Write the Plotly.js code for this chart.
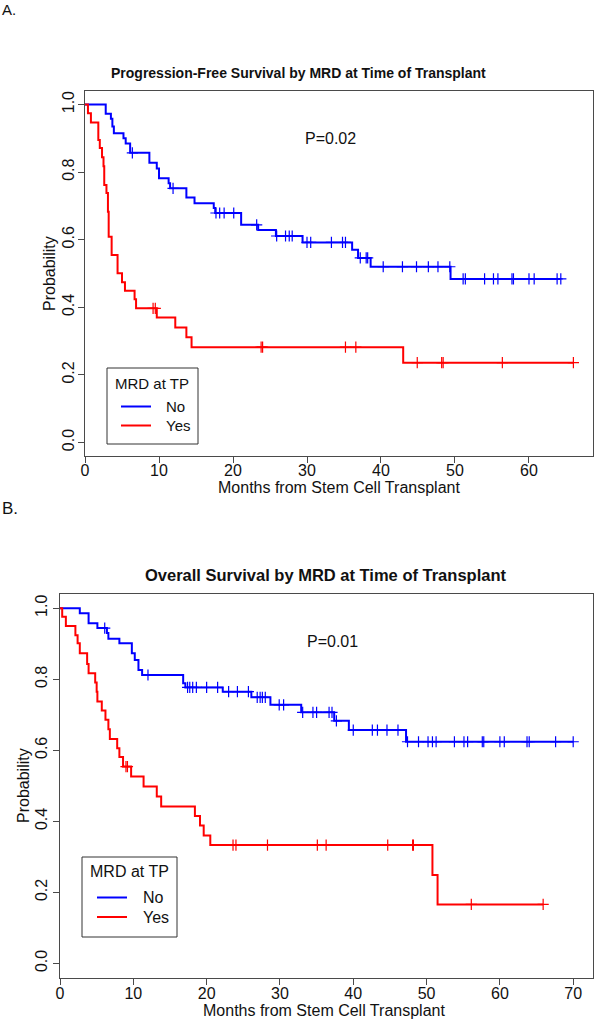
<!DOCTYPE html>
<html>
<head>
<meta charset="utf-8">
<script src="https://cdn.plot.ly/plotly-3.0.1.min.js"></script>
<style>html,body{margin:0;padding:0;background:#fff;}#chart{width:594px;height:1020px;}</style>
</head>
<body>
<div id="chart"></div>
<script>
// ---- Panel A: Progression-free survival ----
const pfsNoTime = [2.8,3.5,3.7,3.9,5.2,5.5,6.1,8.7,9.7,10.0,11.3,11.5,13.7,14.8,17.4,17.6,21.1,23.4,25.8,29.4,36.1,36.9,38.6,49.4];
const pfsNoSurv = [0.973,0.958,0.935,0.915,0.900,0.885,0.857,0.828,0.811,0.782,0.767,0.752,0.725,0.708,0.694,0.679,0.644,0.629,0.611,0.592,0.570,0.546,0.520,0.484];
const pfsNoCens = [6.4,11.9,17.7,18.2,18.8,20.1,23.2,25.9,27.1,27.6,28.0,30.0,30.5,33.3,34.8,35.2,37.2,38.0,38.2,40.3,42.9,44.8,46.4,47.7,49.3,51.1,51.4,54.0,55.2,55.8,57.7,57.9,60.0,60.7,63.8,64.3];
const pfsYesTime = [0.4,0.8,1.8,2.0,2.3,2.5,2.6,2.9,3.1,3.2,3.6,4.4,5.0,5.4,6.7,6.9,9.7,12.2,13.7,14.4,43.0];
const pfsYesSurv = [0.974,0.947,0.895,0.871,0.844,0.817,0.762,0.738,0.683,0.609,0.555,0.501,0.474,0.449,0.424,0.397,0.370,0.340,0.311,0.282,0.236];
const pfsYesCens = [9.2,9.5,23.8,24.0,35.2,36.6,44.9,48.2,48.4,56.4,66.0];

// ---- Panel B: Overall survival ----
const osNoTime = [2.7,3.9,5.1,6.4,6.6,8.1,9.8,10.2,10.7,11.2,16.8,17.1,22.2,26.1,28.7,32.9,37.4,39.4,47.2];
const osNoSurv = [0.986,0.958,0.944,0.930,0.914,0.901,0.873,0.854,0.826,0.812,0.789,0.777,0.765,0.749,0.728,0.707,0.683,0.657,0.624];
const osNoCens = [6.1,12.0,17.4,17.7,18.1,18.6,20.0,21.5,23.0,24.2,25.7,26.9,27.3,27.6,28.0,29.9,30.5,33.1,34.5,35.0,36.7,37.1,37.7,40.0,42.6,43.3,44.6,46.1,47.4,48.9,50.2,50.8,51.3,53.8,55.1,55.6,57.6,57.8,60.0,60.6,63.7,64.0,67.6,70.0];
const osYesTime = [0.3,0.8,2.1,2.4,2.7,3.7,3.9,4.8,5.0,5.1,5.7,6.2,6.6,6.8,7.8,8.1,8.6,9.7,11.4,13.2,13.8,18.4,19.1,19.6,20.5,50.8,51.5];
const osYesSurv = [0.976,0.950,0.924,0.901,0.873,0.843,0.817,0.791,0.765,0.737,0.712,0.686,0.659,0.632,0.606,0.581,0.554,0.526,0.498,0.470,0.442,0.415,0.388,0.360,0.333,0.249,0.166];
const osYesCens = [9.0,9.2,23.6,24.0,28.3,35.1,36.3,44.7,48.1,48.2,56.1,65.9];

// ---- Labels ----
const titleA = "Progression-Free Survival by MRD at Time of Transplant";
const titleB = "Overall Survival by MRD at Time of Transplant";
const xLabel = "Months from Stem Cell Transplant";
const yLabel = "Probability";
const pA = "P=0.02";
const pB = "P=0.01";
const legendTitle = "MRD at TP";
const groupNames = ["No", "Yes"];
const xTicksA = [0,10,20,30,40,50,60];
const xTicksB = [0,10,20,30,40,50,60,70];
const yTicks = [0,0.2,0.4,0.6,0.8,1.0];

const BLUE = "#0000FF", RED = "#FF0000", AX = "#4a4a4a", TXT = "#111";
const FONT = "Liberation Sans, Arial, sans-serif";
const W = 594, H = 1020;
const px = v => v / W;
const py = v => 1 - v / H;

function stepTrace(times, surv, cens, color, xa, ya) {
  const end = Math.max(times[times.length - 1], ...cens);
  return {
    type: "scatter", mode: "lines", xaxis: xa, yaxis: ya,
    x: [0, ...times, end], y: [1, ...surv, surv[surv.length - 1]],
    line: {shape: "hv", color: color, width: 2}, hoverinfo: "skip"
  };
}
function censTrace(times, surv, cens, color, xa, ya) {
  const ys = cens.map(t => { let s = 1; for (let i = 0; i < times.length; i++) if (times[i] <= t) s = surv[i]; return s; });
  return {
    type: "scatter", mode: "markers", xaxis: xa, yaxis: ya, x: cens, y: ys,
    marker: {symbol: "cross-thin", size: 8, color: color, line: {color: color, width: 1.2}}, hoverinfo: "skip"
  };
}

const data = [
  stepTrace(pfsNoTime, pfsNoSurv, pfsNoCens, BLUE, "x", "y"),
  censTrace(pfsNoTime, pfsNoSurv, pfsNoCens, BLUE, "x", "y"),
  stepTrace(pfsYesTime, pfsYesSurv, pfsYesCens, RED, "x", "y"),
  censTrace(pfsYesTime, pfsYesSurv, pfsYesCens, RED, "x", "y"),
  stepTrace(osNoTime, osNoSurv, osNoCens, BLUE, "x2", "y2"),
  censTrace(osNoTime, osNoSurv, osNoCens, BLUE, "x2", "y2"),
  stepTrace(osYesTime, osYesSurv, osYesCens, RED, "x2", "y2"),
  censTrace(osYesTime, osYesSurv, osYesCens, RED, "x2", "y2")
];

function xAxis(domain, range, ticks, anchor, standoff) {
  return {domain: domain, range: range, anchor: anchor, tickvals: ticks, ticktext: ticks.map(String),
    ticks: "outside", ticklen: 6, tickcolor: AX, tickwidth: 1, showline: true, mirror: true,
    linecolor: AX, linewidth: 1, showgrid: false, zeroline: false, ticklabelstandoff: standoff,
    tickfont: {family: FONT, size: 16, color: TXT}, fixedrange: true};
}
function yAxis(domain, anchor, standoff) {
  return {domain: domain, range: [-0.04, 1.04], anchor: anchor, tickvals: yTicks, ticktext: yTicks.map(v => v.toFixed(1)),
    tickangle: -90, ticks: "outside", ticklen: 6, tickcolor: AX, tickwidth: 1, showline: true, mirror: true,
    linecolor: AX, linewidth: 1, showgrid: false, zeroline: false, ticklabelstandoff: standoff,
    tickfont: {family: FONT, size: 16, color: TXT}, fixedrange: true};
}

function ann(text, x, y, size, opts) {
  return Object.assign({text: text, x: px(x), y: py(y), xref: "paper", yref: "paper", showarrow: false,
    xanchor: "center", yanchor: "middle", font: {family: FONT, size: size, color: TXT}}, opts || {});
}

function legendParts(x0, y0, x1, y1, titleX, titleY, lx0, lx1, lyNo, lyYes, textX, size) {
  const shapes = [
    {type: "rect", xref: "paper", yref: "paper", x0: px(x0), x1: px(x1), y0: py(y1), y1: py(y0), line: {color: "#333", width: 1}, fillcolor: "rgba(255,255,255,0)"},
    {type: "line", xref: "paper", yref: "paper", x0: px(lx0), x1: px(lx1), y0: py(lyNo), y1: py(lyNo), line: {color: BLUE, width: 2}},
    {type: "line", xref: "paper", yref: "paper", x0: px(lx0), x1: px(lx1), y0: py(lyYes), y1: py(lyYes), line: {color: RED, width: 2}}
  ];
  const anns = [
    ann(legendTitle, titleX, titleY, size, {xanchor: "left"}),
    ann(groupNames[0], textX, lyNo, size, {xanchor: "left"}),
    ann(groupNames[1], textX, lyYes, size, {xanchor: "left"})
  ];
  return {shapes, anns};
}

const legA = legendParts(107, 368, 198, 444, 113, 383, 121, 151, 406.5, 425.5, 164, 15);
const legB = legendParts(82, 857, 177, 937, 88, 871, 97, 127, 897.5, 917, 141, 16);

const layout = {
  width: W, height: H, margin: {l: 0, r: 0, t: 0, b: 0},
  paper_bgcolor: "#fff", plot_bgcolor: "#fff", showlegend: false,
  xaxis: xAxis([85 / W, 593 / W], [0, 68.65], xTicksA, "y", -6),
  yaxis: yAxis([py(456), py(91)], "x", -2),
  xaxis2: xAxis([60 / W, 593 / W], [0, 72.7], xTicksB, "y2", -5),
  yaxis2: yAxis([py(977.6), py(594)], "x2", 0),
  shapes: [...legA.shapes, ...legB.shapes],
  annotations: [
    ann("A.", 0, 10, 15, {xanchor: "left"}),
    ann("B.", 0, 508, 17, {xanchor: "left"}),
    ann("<b>" + titleA + "</b>", 298.5, 73, 14),
    ann("<b>" + titleB + "</b>", 325.5, 575, 16.5),
    ann(xLabel, 339, 487, 16),
    ann(xLabel, 324, 1010, 16),
    ann(yLabel, 50, 274, 16, {textangle: -90}),
    ann(yLabel, 23, 786, 16, {textangle: -90}),
    ann(pA, 303, 138.5, 16, {xanchor: "left"}),
    ann(pB, 305, 641, 16, {xanchor: "left"}),
    ...legA.anns, ...legB.anns
  ]
};

Plotly.newPlot("chart", data, layout, {staticPlot: true, displayModeBar: false});
</script>
</body>
</html>
